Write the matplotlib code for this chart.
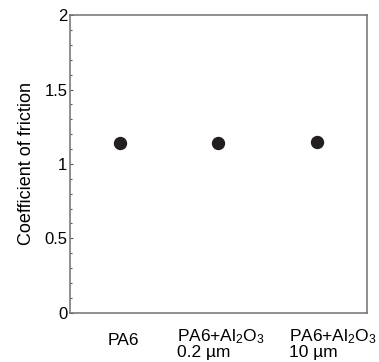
import matplotlib
matplotlib.use("Agg")
import matplotlib.pyplot as plt
import matplotlib.transforms as mtransforms
from matplotlib.ticker import MultipleLocator

plt.rcParams['font.family'] = ['Liberation Sans', 'DejaVu Sans']
plt.rcParams['mathtext.fontset'] = 'custom'
plt.rcParams['mathtext.rm'] = 'Liberation Sans'
plt.rcParams['mathtext.it'] = 'Liberation Sans:italic'

# friction coefficients per material
samples = ['PA6', 'PA6+Al$_2$O$_3$\n0.2 µm', 'PA6+Al$_2$O$_3$\n10 µm']
friction = [1.14, 1.14, 1.15]
y_ticks = [0, 0.5, 1, 1.5, 2]
y_tick_labels = ['0', '0.5', '1', '1.5', '2']

# horizontal nudge (px) of each category label's left edge from its point
label_dx = [-12, -41, -28]

fig = plt.figure(figsize=(3.79, 3.62), dpi=100)
ax = fig.add_axes([0.185, 0.136, 0.783, 0.822])

xs = list(range(1, len(samples) + 1))
ax.plot(xs, friction, 'o', color='#231f20', markersize=8.6, linestyle='none')

ax.set_xlim(0.5, len(samples) + 0.5)
ax.set_ylim(0, 2)
ax.set_yticks(y_ticks)
ax.set_yticklabels(y_tick_labels)
ax.yaxis.set_minor_locator(MultipleLocator(0.1))
ax.set_xticks([])

ax.tick_params(axis='y', which='major', direction='in', length=2.5, width=0.8,
               color='#555555', labelsize=12, pad=2)
ax.tick_params(axis='y', which='minor', direction='in', length=1.6, width=0.8,
               color='#555555')

for sp in ax.spines.values():
    sp.set_color('#707070')
    sp.set_linewidth(1.1)

ax.set_ylabel('Coefficient of friction', fontsize=13, labelpad=6.5)

# category labels under the axis
trans = mtransforms.blended_transform_factory(ax.transData, fig.transFigure)
for x, lab, dx in zip(xs, samples, label_dx):
    off = mtransforms.offset_copy(trans, fig=fig, x=dx, y=0, units='dots')
    if '\n' in lab:
        ax.text(x, 1 - 327 / 362, lab, transform=off, ha='left', va='top',
                multialignment='left', fontsize=12.5, linespacing=0.9)
    else:
        ax.text(x, 1 - 340.5 / 362, lab, transform=off, ha='left', va='center',
                fontsize=12.5)

fig.savefig('out.png', dpi=100)
